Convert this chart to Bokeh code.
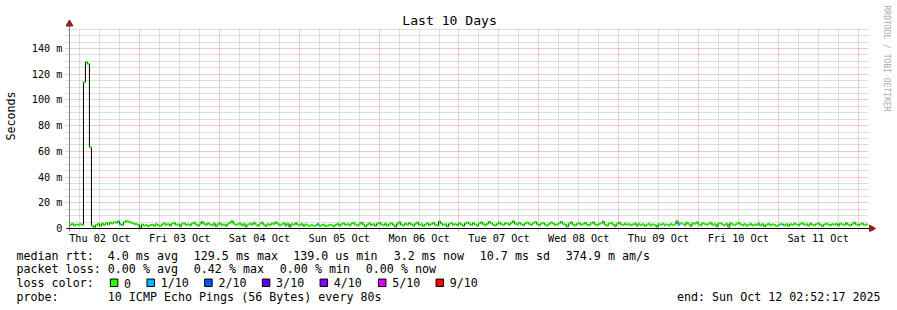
from datetime import datetime, timedelta
import math

from bokeh.plotting import figure
from bokeh.models import Range1d, FixedTicker, DatetimeTickFormatter, ColumnDataSource
from bokeh.layouts import column
from bokeh.core.properties import value
from bokeh.embed import file_html
from bokeh.resources import INLINE

FONT = "DejaVu Sans Mono"

# ---------------- data ----------------
end_time = datetime(2025, 10, 12, 2, 52, 17)
span_days = 10
step_seconds = 2160          # one sample per 36 minutes

median_rtt_ms = [
    3.0, 3.6, 2.4, 3.1, 2.9, 3.3, 2.8, 113.8, 129.5, 128.0, 63.2, 2.2, 0.9, 2.8, 3.6, 1.9, 3.8, 2.7, 4.3, 3.1,
    4.6, 3.9, 5.0, 4.4, 5.6, 3.3, 2.6, 4.9, 5.8, 5.5, 4.8, 4.3, 3.7, 3.4, 2.9, 0.139, 3.1, 2.2, 2.7, 1.8,
    2.5, 3.0, 2.1, 3.4, 2.6, 1.9, 3.1, 4.0, 2.8, 3.5, 2.2, 3.8, 4.4, 2.9, 3.2, 1.6, 3.7, 4.1, 2.7, 3.3,
    2.4, 3.9, 4.6, 3.1, 2.2, 3.5, 5.3, 3.6, 2.8, 4.2, 3.0, 2.5, 3.9, 1.7, 3.4, 4.0, 2.6, 3.2, 2.0, 3.6,
    4.5, 5.9, 3.8, 2.7, 3.3, 4.1, 2.3, 3.7, 1.4, 3.0, 3.9, 2.8, 4.6, 3.2, 2.1, 3.5, 4.8, 2.9, 1.8, 3.4,
    2.6, 4.0, 3.3, 5.0, 3.7, 2.4, 3.1, 4.3, 2.2, 3.8, 1.2, 3.5, 2.9, 4.4, 3.0, 2.7, 3.6, 1.9, 3.2, 2.5,
    2.1, 2.8, 1.9, 2.4, 3.4, 2.0, 2.6, 3.1, 1.7, 2.3, 3.0, 2.5, 1.6, 2.9, 3.6, 2.2, 3.3, 4.1, 2.8, 3.5,
    2.4, 3.9, 4.4, 3.0, 2.3, 3.6, 4.7, 2.9, 1.5, 3.2, 4.0, 2.6, 3.4, 2.0, 3.8, 4.5, 3.1, 2.5, 3.7, 2.2,
    3.3, 4.2, 2.7, 1.3, 3.6, 4.9, 3.0, 2.4, 3.8, 2.9, 4.3, 3.2, 2.1, 3.7, 4.6, 2.8, 3.4, 1.9, 3.1, 4.0,
    2.6, 3.5, 4.4, 3.0, 2.3, 5.5, 3.9, 2.7, 3.3, 1.6, 3.6, 4.2, 2.9, 3.4, 2.5, 4.1, 3.2, 2.0, 3.8, 4.7,
    3.6, 2.8, 4.3, 3.1, 2.2, 3.9, 4.8, 3.4, 2.6, 3.7, 5.2, 4.0, 3.0, 2.4, 3.5, 4.6, 3.3, 2.7, 4.1, 3.8,
    2.9, 4.4, 5.6, 3.7, 3.1, 4.5, 3.3, 2.5, 3.9, 4.7, 3.6, 2.8, 4.2, 5.1, 3.4, 2.6, 3.8, 4.3, 3.0, 2.3,
    3.5, 4.6, 3.9, 2.7, 3.2, 4.0, 5.3, 3.6, 2.9, 1.4, 3.7, 4.8, 3.1, 2.4, 3.6, 4.2, 2.8, 3.3, 4.5, 3.0,
    2.6, 3.8, 4.9, 3.2, 2.5, 3.6, 4.1, 5.4, 3.0, 2.3, 3.9, 4.4, 3.1, 1.8, 3.5, 4.7, 3.3, 2.7, 3.8, 2.9,
    3.4, 2.5, 3.1, 4.0, 2.2, 3.6, 2.8, 3.3, 1.9, 3.0, 3.7, 2.4, 3.2, 2.7, 1.1, 3.5, 2.9, 3.8, 2.6, 3.1,
    2.3, 3.6, 2.8, 3.2, 5.8, 3.0, 4.2, 3.5, 2.6, 4.6, 3.3, 1.7, 4.0, 3.7, 4.9, 3.1, 2.4, 4.3, 3.6, 2.9,
    3.8, 4.5, 2.7, 3.4, 1.5, 3.9, 4.3, 3.0, 2.5, 3.7, 1.2, 4.1, 3.2, 2.8, 3.6, 4.4, 3.1, 2.6, 3.5, 2.2,
    2.9, 3.6, 2.4, 3.1, 2.7, 3.9, 2.3, 3.4, 1.6, 3.0, 3.7, 2.5, 3.2, 2.8, 1.9, 2.6, 3.5, 3.1, 2.4, 3.3,
    2.0, 3.4, 2.7, 3.9, 3.1, 2.4, 3.6, 4.1, 2.9, 3.3, 2.2, 3.8, 3.0, 2.6, 3.5, 4.0, 2.8, 1.7, 3.2, 3.7,
    3.1, 2.5, 3.4, 2.9, 3.6, 2.3, 3.8, 3.2, 2.7, 4.3, 3.0, 2.4, 3.5, 4.6, 3.1, 2.6, 3.3, 3.9, 2.8, 3.2,
]
# sample index -> lost pings out of 10 (all other samples: 0)
loss_events = {25: 1, 124: 1, 305: 1, 357: 1}

loss_levels = [0, 1, 2, 3, 4, 5, 9]
loss_labels = ["0", "1/10", "2/10", "3/10", "4/10", "5/10", "9/10"]
loss_colors = ["#26ff00", "#00b8ff", "#0059ff", "#5e00ff", "#7e00ff", "#dd00ff", "#ff0000"]

y_ticks_ms = [0, 20, 40, 60, 80, 100, 120, 140]
y_tick_labels = ["0", "20 m", "40 m", "60 m", "80 m", "100 m", "120 m", "140 m"]
y_minor_step_ms = 5
y_grid_top_ms = 155

title_text = "Last 10 Days"
y_label = "Seconds"
watermark = "RRDTOOL / TOBI OETIKER"
rtt_heads = ["median rtt:", "4.0 ms avg", "129.5 ms max", "139.0 us min", "3.2 ms now", "10.7 ms sd", "374.9 m am/s"]
loss_heads = ["packet loss:", "0.00 % avg", "0.42 % max", "0.00 % min", "0.00 % now"]
color_head = "loss color:"
probe_heads = ["probe:", "10 ICMP Echo Pings (56 Bytes) every 80s"]
end_text = "end: Sun Oct 12 02:52:17 2025"

# ---------------- geometry (pixels) ----------------
SEC_PER_PX = 1080.0
PX_PER_MS = 180.0 / 140.0
EPOCH = datetime(1970, 1, 1)
AXIS_X, AXIS_Y = 67, 228            # canvas pixel of the time origin / of zero
FRAME_L, FRAME_B = 63, 231           # frame: left edge and bottom edge
TOP_H = 248                          # height of the chart part, legend strip below


def to_ms(dt):
    return (dt - EPOCH).total_seconds() * 1000.0


start_time = end_time - timedelta(days=span_days)
t0 = to_ms(start_time)
t_end = to_ms(end_time)
MS_PER_PX_X = SEC_PER_PX * 1000.0


def xpx(px):      # canvas pixel column -> time value
    return t0 + (px - AXIS_X) * MS_PER_PX_X


def ypx(py):      # canvas pixel row -> rtt value
    return (AXIS_Y - py) / PX_PER_MS


n = len(median_rtt_ms)
times = [t0 + i * step_seconds * 1000.0 for i in range(n + 1)]

# ticks
midnights, six_hours, noons = [], [], []
d = datetime(start_time.year, start_time.month, start_time.day)
while d <= end_time:
    if d >= start_time:
        (midnights if d.hour == 0 else six_hours).append(to_ms(d))
        if d.hour == 12:
            noons.append(to_ms(d))
    d += timedelta(hours=6)
y_minor = [v for v in range(y_minor_step_ms, y_grid_top_ms + 1, y_minor_step_ms) if v % 20 != 0]

# ---------------- main chart ----------------
p = figure(width=897, height=TOP_H, x_axis_type="datetime",
           x_range=Range1d(xpx(FRAME_L), xpx(897)), y_range=Range1d(ypx(FRAME_B), ypx(0)),
           output_backend="svg", toolbar_location=None,
           min_border_left=FRAME_L, min_border_right=0,
           min_border_top=0, min_border_bottom=TOP_H - FRAME_B)
p.outline_line_color = None
p.background_fill_color = "white"
p.border_fill_color = "white"
p.title.visible = False

major_grid = "#eb9090"
minor_grid = "#bdbdbd"
p.xgrid.ticker = FixedTicker(ticks=midnights, minor_ticks=six_hours)
p.xgrid.grid_line_color = major_grid
p.xgrid.grid_line_dash = "1 1"
p.xgrid.minor_grid_line_color = minor_grid
p.xgrid.minor_grid_line_dash = "1 1"
p.ygrid.ticker = FixedTicker(ticks=y_ticks_ms[1:], minor_ticks=y_minor)
p.ygrid.grid_line_color = major_grid
p.ygrid.grid_line_dash = "1 1"
p.ygrid.minor_grid_line_color = minor_grid
p.ygrid.minor_grid_line_dash = "1 1"

fmt = "%a %d %b"
p.xaxis.ticker = FixedTicker(ticks=noons)
p.xaxis.formatter = DatetimeTickFormatter(microseconds=fmt, milliseconds=fmt, seconds=fmt, minsec=fmt,
                                          minutes=fmt, hourmin=fmt, hours=fmt, days=fmt, months=fmt, years=fmt)
p.xaxis.axis_line_color = None
p.xaxis.major_tick_out = 0
p.xaxis.major_tick_in = 0
p.xaxis.minor_tick_out = 0
p.xaxis.minor_tick_in = 0
p.xaxis.major_label_standoff = 1
p.xaxis.major_label_text_font = FONT
p.xaxis.major_label_text_font_size = "10.2px"
p.xaxis.major_label_text_color = "black"

p.yaxis.ticker = FixedTicker(ticks=y_ticks_ms)
p.yaxis.major_label_overrides = dict(zip(y_ticks_ms, y_tick_labels))
p.yaxis.axis_line_color = None
p.yaxis.major_tick_out = 0
p.yaxis.major_tick_in = 0
p.yaxis.minor_tick_out = 0
p.yaxis.minor_tick_in = 0
p.yaxis.major_label_standoff = 3
p.yaxis.major_label_text_font = FONT
p.yaxis.major_label_text_font_size = "10.2px"
p.yaxis.major_label_text_color = "black"
p.yaxis.axis_label = y_label
p.yaxis.axis_label_text_font = FONT
p.yaxis.axis_label_text_font_size = "11.66px"
p.yaxis.axis_label_text_font_style = "normal"
p.yaxis.axis_label_text_color = "black"
p.yaxis.axis_label_standoff = 11

# white masks: the grid stops at the top and right edge of the graph area
p.quad(left=[xpx(FRAME_L)], right=[xpx(897)], bottom=[y_grid_top_ms + 0.4], top=[ypx(0)],
       fill_color="white", line_color=None)
p.quad(left=[t_end + 0.5 * MS_PER_PX_X], right=[xpx(897)], bottom=[ypx(FRAME_B)], top=[ypx(0)],
       fill_color="white", line_color=None)

# median rtt: dark step line + loss-coloured plateaus
p.step(x=times, y=median_rtt_ms + [median_rtt_ms[-1]], mode="after",
       line_color="#000000", line_width=1)
seg_colors = [loss_colors[loss_levels.index(loss_events.get(i, 0))] for i in range(n)]
seg = ColumnDataSource(dict(x0=times[:-1], x1=times[1:], y=median_rtt_ms, c=seg_colors))
p.segment(x0="x0", y0="y", x1="x1", y1="y", line_color="c", line_width=2, source=seg)

# axis lines with arrow heads (rrdtool style)
arrow_red = "#8b2020"
p.segment(x0=[t0], y0=[ypx(FRAME_B)], x1=[t0], y1=[ypx(24)], line_color="#808080", line_width=1)
p.segment(x0=[xpx(64)], y0=[0], x1=[xpx(870)], y1=[0], line_color="#000000", line_width=1)
p.scatter(x=[t0], y=[ypx(23.5)], marker="triangle", size=7,
          fill_color=arrow_red, line_color=arrow_red)
p.scatter(x=[xpx(871)], y=[0], marker="triangle", size=7, angle=-math.pi / 2,
          fill_color=arrow_red, line_color=arrow_red)

# title and watermark
p.text(x=[xpx(448)], y=[ypx(19.5)], text=[title_text], text_font=value(FONT), text_font_size="13.1px",
       text_color="black", text_align="center", text_baseline="middle")
p.text(x=[xpx(886)], y=[ypx(58)], text=[watermark], text_font=value(FONT), text_font_size="8px",
       text_color="#aaaaaa", angle=-math.pi / 2, text_align="center", text_baseline="middle")

# ---------------- legend strip ----------------
q = figure(width=897, height=310 - TOP_H, x_range=Range1d(0, 897), y_range=Range1d(310 - TOP_H, 0),
           output_backend="svg", toolbar_location=None, min_border=0,
           min_border_left=0, min_border_right=0, min_border_top=0, min_border_bottom=0,
           x_axis_type=None, y_axis_type=None)
q.outline_line_color = None
q.grid.visible = False
q.background_fill_color = "white"
q.border_fill_color = "white"
q.title.visible = False
for f in (p, q):
    if "frame_align" in f.properties():
        f.frame_align = False

rows_y = [7, 20.8, 34.6, 48.4]
rtt_x = [16, 107.3, 193.3, 292.7, 393.3, 479.3, 565.3]
loss_x = [16, 107.3, 193.3, 279.3, 365.3]
box_x = [109.6, 146.2, 203.9, 261.6, 319.3, 377.7, 435.3]

tx, ty, tt = [], [], []
for x, s in zip(rtt_x, rtt_heads):
    tx.append(x); ty.append(rows_y[0]); tt.append(s)
for x, s in zip(loss_x, loss_heads):
    tx.append(x); ty.append(rows_y[1]); tt.append(s)
tx.append(16); ty.append(rows_y[2]); tt.append(color_head)
for x, s in zip(box_x, loss_labels):
    tx.append(x + 14); ty.append(rows_y[2]); tt.append(s)
for x, s in zip([16, 107.3], probe_heads):
    tx.append(x); ty.append(rows_y[3]); tt.append(s)
q.text(x=tx, y=ty, text=tt, text_font=value(FONT), text_font_size="11.66px",
       text_color="black", text_align="left", text_baseline="middle")
q.text(x=[880], y=[rows_y[3]], text=[end_text], text_font=value(FONT), text_font_size="11.66px",
       text_color="black", text_align="right", text_baseline="middle")
q.rect(x=[b + 4 for b in box_x], y=[34.3] * len(box_x), width=7.5, height=7.5,
       fill_color=loss_colors, line_color="black", line_width=1)

layout = column(p, q, spacing=0)
open("out.html", "w").write(file_html(layout, INLINE))
